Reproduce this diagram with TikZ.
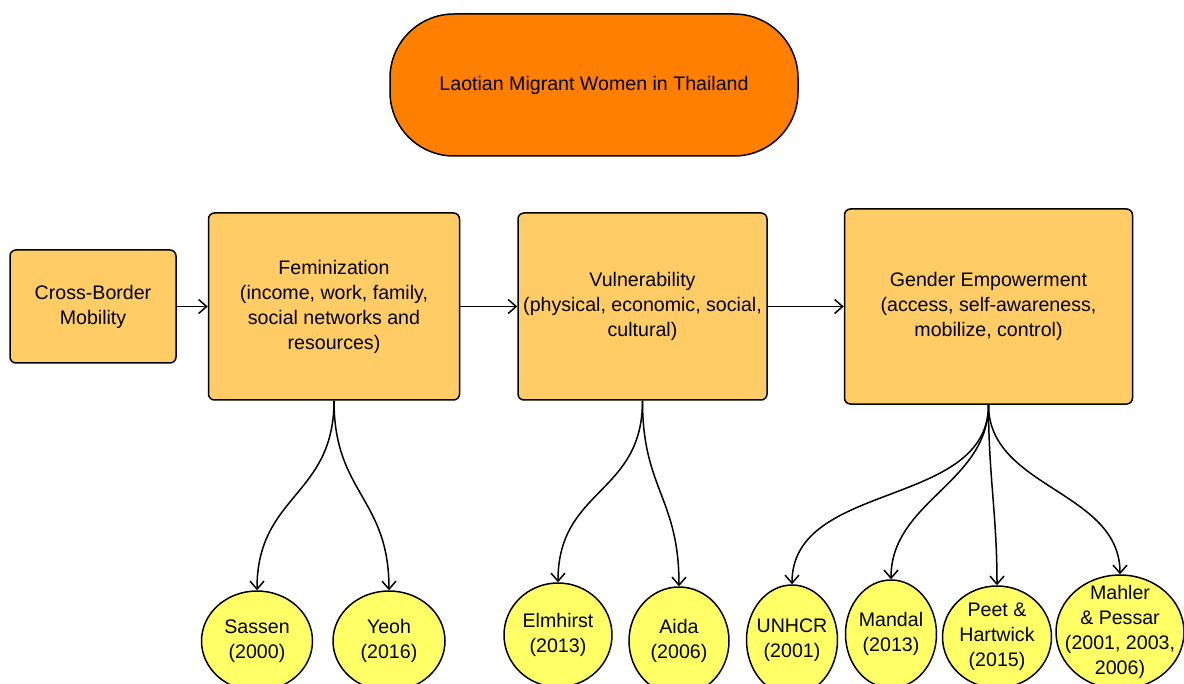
\documentclass[tikz,border=0pt]{standalone}
\usepackage{fontspec}
\setmainfont{Liberation Sans}
\usetikzlibrary{
  arrows.meta,
  positioning,
  shapes.geometric,
}
\definecolor{titleorange}{HTML}{FF8000}
\definecolor{boxorange}{HTML}{FFCC66}
\definecolor{refyellow}{HTML}{FFFF66}
\tikzset{
  >={Straight Barb[length=4pt,width=7pt]},
}

\begin{document}
\begin{tikzpicture}[
        x=0.5pt, y=-0.5pt,
        line width=0.75pt,
        every node/.style={draw, align=center, font=\fontsize{9.8}{12.5}\selectfont},
        box/.style={fill=boxorange, rounded corners=3pt, inner sep=1.5pt},
        ref/.style={ellipse, fill=refyellow, inner sep=-7pt},
      ]
      \useasboundingbox (0,0) rectangle (1184,684);

      \node[fill=titleorange, rounded corners=32pt, minimum width=204pt, minimum height=71pt]
        (title) at (594,85) {Laotian Migrant Women in Thailand};

      % main row
      \node[box, minimum width=83pt, minimum height=56.5pt] (cross) at (93,306.5) {
        Cross-Border \\
        Mobility
      };
      \node[box, minimum width=125.5pt, minimum height=93.5pt] (fem) [right = 15.5pt of cross] {
        Feminization \\
        (income, work, family, \\
        social networks and \\
        resources)
      };
      \node[box, minimum width=124.5pt, minimum height=93.5pt] (vuln) [right = 28.5pt of fem] {
        Vulnerability \\
        (physical, economic, social, \\
        cultural)
      };
      \node[box, minimum width=144pt, minimum height=97.5pt] (gender) [right = 38pt of vuln] {
        Gender Empowerment \\
        (access, self-awareness, \\
        mobilize, control)
      };

      % references
      \node[ref, minimum width=55.5pt, minimum height=50pt] (sassen) at (257,641) {Sassen \\ (2000)};
      \node[ref, minimum width=56pt, minimum height=50pt] (yeoh) at (389,641) {Yeoh \\ (2016)};
      \node[ref, minimum width=54pt, minimum height=52pt] (elmhirst) at (558,635) {Elmhirst \\ (2013)};
      \node[ref, minimum width=50pt, minimum height=54pt] (aida) at (679,641) {Aida \\ (2006)};
      \node[ref, minimum width=45.5pt, minimum height=55pt] (unhcr) at (792,640) {UNHCR \\ (2001)};
      \node[ref, minimum width=45.5pt, minimum height=54pt] (mandal) at (891,634) {Mandal \\ (2013)};
      \node[ref, minimum width=54.5pt, minimum height=51pt] (peet) at (997,637) {Peet \& \\ Hartwick \\ (2015)};
      \node[ref, minimum width=64pt, minimum height=57pt] (mahler) at (1120,632) {Mahler \\ \& Pessar \\ (2001, 2003, \\ 2006)};

      \draw[->] (cross) -- (fem);
      \draw[->] (fem) -- (vuln);
      \draw[->] (vuln) -- (gender);

      \draw[->] (fem.south) to[out=-90, in=90, looseness=1.2] (sassen.north);
      \draw[->] (fem.south) to[out=-90, in=90, looseness=1.2] (yeoh.north);
      \draw[->] (vuln.south) to[out=-90, in=90, looseness=1.2] (elmhirst.north);
      \draw[->] (vuln.south) to[out=-90, in=90, looseness=1.2] (aida.north);
      \draw[->] (gender.south) to[out=-90, in=90] (unhcr.north);
      \draw[->] (gender.south) to[out=-90, in=90] (mandal.north);
      \draw[->] (gender.south) to[out=-90, in=90] (peet.north);
      \draw[->] (gender.south) to[out=-90, in=90] (mahler.north);
    \end{tikzpicture}
\end{document}
